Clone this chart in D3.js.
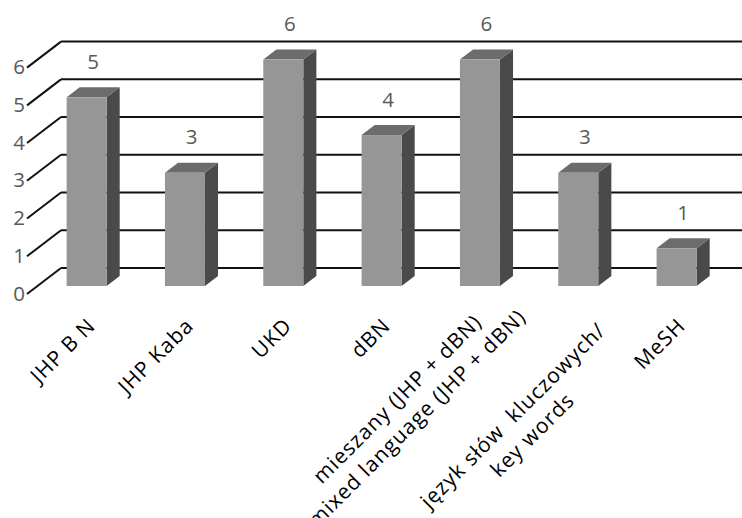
<!DOCTYPE html>
<html>
<head>
<meta charset="utf-8">
<script src="https://cdn.jsdelivr.net/npm/d3@7"></script>
<style>
  html, body { margin: 0; padding: 0; background: #fff; }
  svg { display: block; }
  text { font-family: "Open Sans", "Noto Sans", sans-serif; }
</style>
</head>
<body>
<svg id="chart" width="742" height="518"></svg>
<script>
// ---- data ----
const categories = [
  ["JHP B N"],
  ["JHP Kaba"],
  ["UKD"],
  ["dBN"],
  ["mieszany (JHP + dBN)", "mixed language (JHP + dBN)"],
  ["język słów\u00A0 kluczowych/", "key words"],
  ["MeSH"]
];
const values = [5, 3, 6, 4, 6, 3, 1];
const yTicks = [0, 1, 2, 3, 4, 5, 6];

// ---- layout ----
const depth = { dx: 34, dy: -26 };
const barFront = 0.3077, barBack = 0.6923;
const fontSize = 20.5;
const catFont = 21, catSpacing = 1;
const lineH = 27.5;
const labelShift = [[0,0],[0,0],[0,0],[0,0],[32.5,-7.4],[9.8,16.5],[0,0]];

const svg = d3.select("#chart");
const defs = svg.append("defs");

const x = d3.scaleBand()
  .domain(d3.range(categories.length))
  .range([27, 715.3])
  .paddingInner(0.593)
  .paddingOuter(0.2965);

const y = d3.scaleLinear().domain([0, 6]).range([294, 67.6]);

// back wall gridlines
const grid = svg.append("g");
yTicks.forEach(t => {
  const xf = 27, yf = y(t);
  const xb = xf + depth.dx, yb = yf + depth.dy;
  grid.append("line")
    .attr("x1", xf).attr("y1", yf).attr("x2", xb).attr("y2", yb)
    .attr("stroke", "#111").attr("stroke-width", 2);
  grid.append("line")
    .attr("x1", xb).attr("y1", yb).attr("x2", x.range()[1] + depth.dx).attr("y2", yb)
    .attr("stroke", "#111").attr("stroke-width", 2);
});

// y tick labels
svg.append("g").selectAll("text").data(yTicks).join("text")
  .attr("x", 25)
  .attr("y", d => y(d) + 6.5)
  .attr("text-anchor", "end")
  .attr("fill", "#595959")
  .attr("font-size", fontSize)
  .text(d => d);

// bars
const bw = x.bandwidth();
const fx = depth.dx * barFront, fy = depth.dy * barFront;
const bdx = depth.dx * (barBack - barFront), bdy = depth.dy * (barBack - barFront);
const bars = svg.append("g");
values.forEach((v, i) => {
  const x0 = x(i) + fx, x1 = x0 + bw;
  const yTop = y(v) + fy, yBot = y(0) + fy;
  bars.append("path")
    .attr("d", `M${x1},${yBot}L${x1 + bdx},${yBot + bdy}L${x1 + bdx},${yTop + bdy}L${x1},${yTop}Z`)
    .attr("fill", "#4a4a4a");
  bars.append("path")
    .attr("d", `M${x0},${yTop}L${x0 + bdx},${yTop + bdy}L${x1 + bdx},${yTop + bdy}L${x1},${yTop}Z`)
    .attr("fill", "#6c6c6c");
  bars.append("rect")
    .attr("x", x0).attr("y", yTop).attr("width", bw).attr("height", yBot - yTop)
    .attr("fill", "#969696");
  svg.append("text")
    .attr("x", x0 + bw / 2 + bdx / 2)
    .attr("y", yTop + bdy - 18.5)
    .attr("text-anchor", "middle")
    .attr("fill", "#595959")
    .attr("font-size", fontSize)
    .text(v);
});

// category labels, rotated -45
const labels = svg.append("g");
const measure = svg.append("text")
  .attr("font-size", catFont).attr("letter-spacing", catSpacing).attr("visibility", "hidden");
categories.forEach((lines, i) => {
  const cx = x(i) + bw / 2;
  const ox = cx + 20.5, oy = 327;
  const widths = lines.map(s => { measure.text(s); return measure.node().getComputedTextLength(); });
  const wMax = d3.max(widths);
  const [du, dv] = labelShift[i];
  lines.forEach((s, k) => {
    labels.append("text")
      .attr("font-size", catFont)
      .attr("letter-spacing", catSpacing)
      .attr("fill", "#000")
      .attr("text-anchor", "middle")
      .attr("transform",
        `translate(${ox},${oy}) rotate(-45) translate(${du - wMax / 2},${dv + k * lineH})`)
      .text(s);
  });
});
measure.remove();
</script>
</body>
</html>
